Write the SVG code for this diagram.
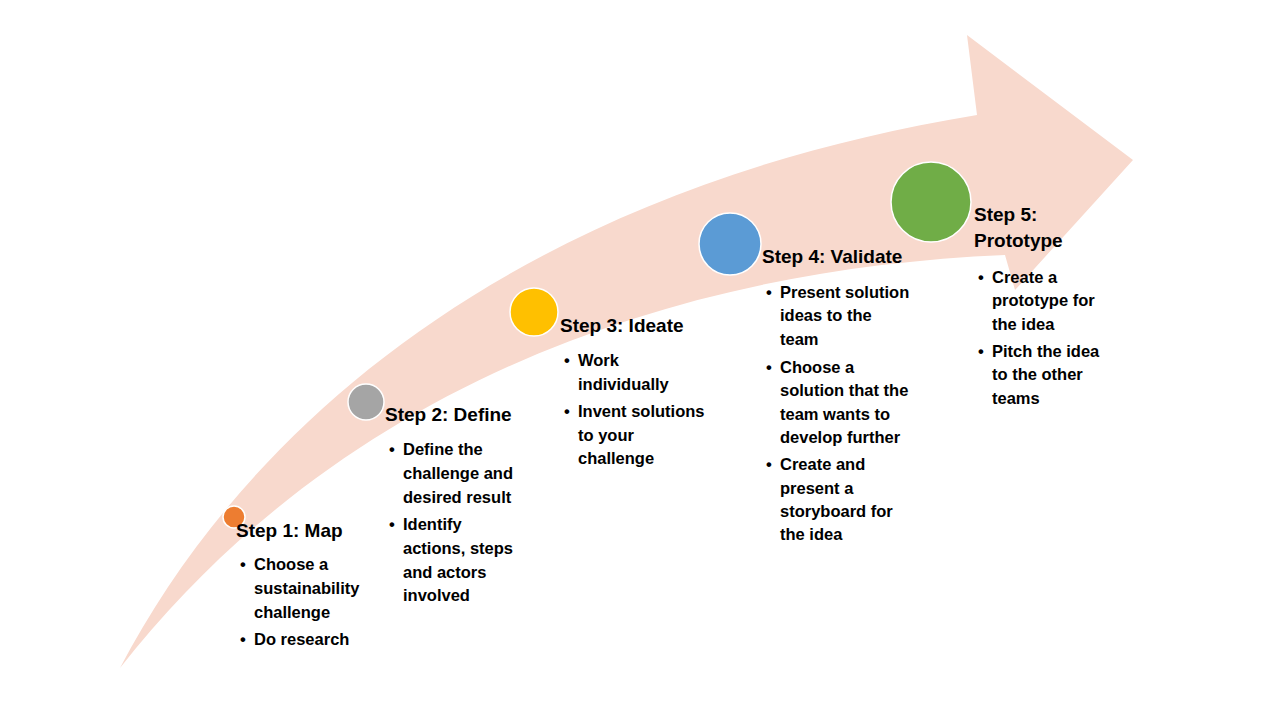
<svg xmlns="http://www.w3.org/2000/svg" width="1280" height="720" viewBox="0 0 1280 720">
<style>
.t{font-family:"Liberation Sans",Arial,sans-serif;font-weight:bold;font-size:19px;fill:#000}
.b{font-family:"Liberation Sans",Arial,sans-serif;font-weight:bold;font-size:16.5px;fill:#000}
</style>
<rect width="1280" height="720" fill="#fff"/>
<g id="arrow">
<path d="M120,668 C250,420 520,190 977,115 L967,35 L1133,160 L1015,290 L1005,255 C650,270 330,400 120,668 Z" fill="#f8d9cd"/>
</g>
<g id="connectors"></g>
<g id="step1">
<circle cx="234" cy="517" r="11" fill="#ed7d31" stroke="#fff" stroke-width="1.5"/>
<text class="t" x="236" y="537">Step 1: Map</text>
<text class="b"><tspan x="240" y="570">•</tspan><tspan x="254" y="570">Choose a</tspan><tspan x="254" y="594">sustainability</tspan><tspan x="254" y="618">challenge</tspan><tspan x="240" y="645">•</tspan><tspan x="254" y="645">Do research</tspan></text>
</g>
<g id="step2">
<circle cx="366" cy="402" r="18" fill="#a5a5a5" stroke="#fff" stroke-width="1.5"/>
<text class="t" x="385" y="421">Step 2: Define</text>
<text class="b"><tspan x="389" y="455">•</tspan><tspan x="403" y="455">Define the</tspan><tspan x="403" y="479">challenge and</tspan><tspan x="403" y="503">desired result</tspan><tspan x="389" y="530">•</tspan><tspan x="403" y="530">Identify</tspan><tspan x="403" y="554">actions, steps</tspan><tspan x="403" y="578">and actors</tspan><tspan x="403" y="601">involved</tspan></text>
</g>
<g id="step3">
<circle cx="534" cy="312" r="24" fill="#ffc000" stroke="#fff" stroke-width="1.5"/>
<text class="t" x="560" y="332">Step 3: Ideate</text>
<text class="b"><tspan x="564" y="366">•</tspan><tspan x="578" y="366">Work</tspan><tspan x="578" y="390">individually</tspan><tspan x="564" y="417">•</tspan><tspan x="578" y="417">Invent solutions</tspan><tspan x="578" y="441">to your</tspan><tspan x="578" y="464">challenge</tspan></text>
</g>
<g id="step4">
<circle cx="730" cy="244" r="31" fill="#5b9bd5" stroke="#fff" stroke-width="1.5"/>
<text class="t" x="762" y="263">Step 4: Validate</text>
<text class="b"><tspan x="766" y="298">•</tspan><tspan x="780" y="298">Present solution</tspan><tspan x="780" y="321">ideas to the</tspan><tspan x="780" y="345">team</tspan><tspan x="766" y="373">•</tspan><tspan x="780" y="373">Choose a</tspan><tspan x="780" y="396">solution that the</tspan><tspan x="780" y="420">team wants to</tspan><tspan x="780" y="443">develop further</tspan><tspan x="766" y="470">•</tspan><tspan x="780" y="470">Create and</tspan><tspan x="780" y="494">present a</tspan><tspan x="780" y="517">storyboard for</tspan><tspan x="780" y="540">the idea</tspan></text>
</g>
<g id="step5">
<circle cx="931" cy="202" r="40" fill="#70ad47" stroke="#fff" stroke-width="1.5"/>
<text class="t"><tspan x="974" y="221">Step 5:</tspan><tspan x="974" y="247">Prototype</tspan></text>
<text class="b"><tspan x="978" y="283">•</tspan><tspan x="992" y="283">Create a</tspan><tspan x="992" y="306">prototype for</tspan><tspan x="992" y="330">the idea</tspan><tspan x="978" y="357">•</tspan><tspan x="992" y="357">Pitch the idea</tspan><tspan x="992" y="380">to the other</tspan><tspan x="992" y="404">teams</tspan></text>
</g>
</svg>
